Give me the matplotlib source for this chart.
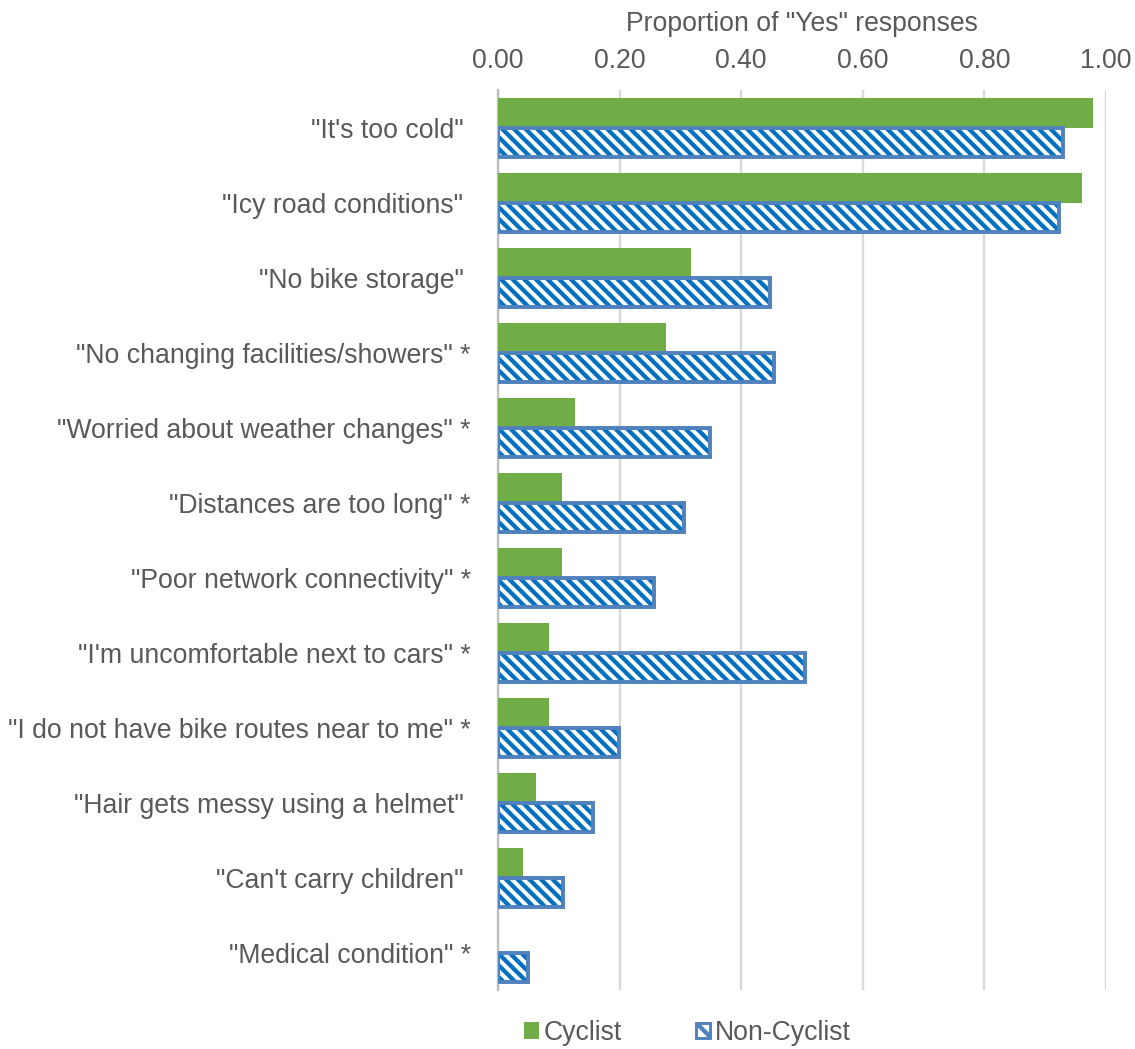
import matplotlib.pyplot as plt
from matplotlib.patches import Patch

plt.rcParams['font.family'] = ['Liberation Sans', 'DejaVu Sans']
plt.rcParams['hatch.linewidth'] = 2.2

# ── Data ──────────────────────────────────────────────────────────────────
categories = [
    '"It\'s too cold" ',
    '"Icy road conditions" ',
    '"No bike storage" ',
    '"No changing facilities/showers" *',
    '"Worried about weather changes" *',
    '"Distances are too long" *',
    '"Poor network connectivity" *',
    '"I\'m uncomfortable next to cars" *',
    '"I do not have bike routes near to me" *',
    '"Hair gets messy using a helmet" ',
    '"Can\'t carry children" ',
    '"Medical condition" *',
]
cyclist = [0.979, 0.960, 0.317, 0.276, 0.127, 0.105, 0.105, 0.084, 0.084, 0.063, 0.041, 0.0]
non_cyclist = [0.929, 0.923, 0.447, 0.454, 0.349, 0.306, 0.257, 0.505, 0.199, 0.156, 0.107, 0.049]
xticks = [0.0, 0.2, 0.4, 0.6, 0.8, 1.0]

GREEN = '#70ad47'
HATCH_BLUE = '#0070c0'
EDGE_BLUE = '#4f81bd'
TEXT = '#595959'
HATCH = '\\\\\\\\'

# ── Plot ──────────────────────────────────────────────────────────────────
fig = plt.figure(figsize=(1135 / 140, 1049 / 140), dpi=140)
ax = fig.add_axes([498 / 1135, 1 - 990 / 1049, (1106 - 498) / 1135, 900 / 1049])

y = list(range(len(categories)))
h = 0.39
ax.barh([v - h / 2 for v in y], cyclist, height=h, color=GREEN, zorder=3)
ax.barh([v + h / 2 for v in y], non_cyclist, height=h, color='white',
        edgecolor=HATCH_BLUE, hatch=HATCH, linewidth=0, zorder=3)
ax.barh([v + h / 2 for v in y], non_cyclist, height=h, color='none',
        edgecolor=EDGE_BLUE, linewidth=2.0, zorder=4)

ax.set_ylim(len(categories) - 0.5, -0.5)
ax.set_xlim(0, 1.0)
ax.set_yticks(y)
ax.set_yticklabels(categories, fontsize=13.7, color=TEXT)
ax.set_xticks(xticks)
ax.set_xticklabels([f"{t:.2f}" for t in xticks], fontsize=13.7, color=TEXT)
ax.xaxis.tick_top()
ax.xaxis.set_label_position('top')
ax.set_xlabel('Proportion of "Yes" responses', fontsize=13.7, color=TEXT, labelpad=9)
ax.tick_params(axis='both', length=0)
ax.tick_params(axis='y', pad=14)
ax.tick_params(axis='x', pad=8)

for s in ['top', 'right', 'bottom']:
    ax.spines[s].set_visible(False)
ax.spines['left'].set_color('#bfbfbf')
ax.spines['left'].set_linewidth(1.2)
ax.grid(axis='x', color='#d9d9d9', linewidth=1.2, zorder=0)
ax.set_axisbelow(True)

handles = [
    Patch(facecolor=GREEN, edgecolor=GREEN, label='Cyclist'),
    Patch(facecolor='white', edgecolor=EDGE_BLUE, hatch='\\\\', linewidth=1.5, label='Non-Cyclist'),
]
fig.legend(handles=handles, loc='center', bbox_to_anchor=(0.606, 1 - 1033 / 1049),
           ncol=2, frameon=False, fontsize=13.7, labelcolor=TEXT,
           handlelength=0.5, handleheight=0.5, handletextpad=0.2, columnspacing=2.8)

plt.savefig("out.png", dpi=140)
